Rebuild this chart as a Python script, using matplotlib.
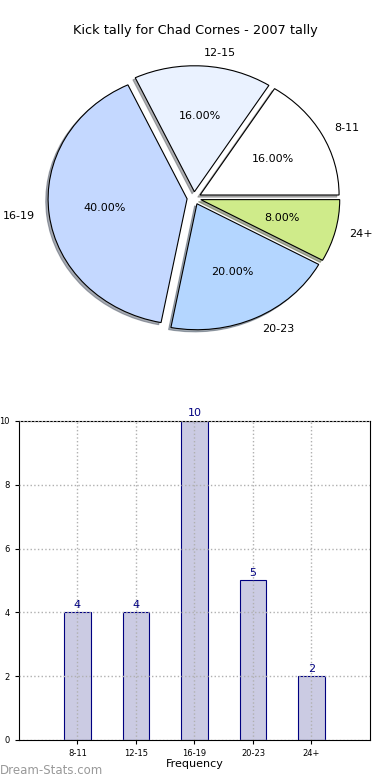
import matplotlib
matplotlib.use("Agg")
import matplotlib.pyplot as plt

# data
categories = ['8-11', '12-15', '16-19', '20-23', '24+']
kicks = [4, 4, 10, 5, 2]
slice_colors = ['#ffffff', '#eaf2ff', '#c4d8ff', '#b4d6ff', '#cfeb8a']

plt.rcParams['font.family'] = 'DejaVu Sans'

fig = plt.figure(figsize=(3.9, 7.8), dpi=100)
fig.patch.set_facecolor('white')

# pie chart (slightly squashed, like the original)
ax_pie = fig.add_axes([0.0519, 0.5442, 0.891, 0.4038])
wedges, texts, autotexts = ax_pie.pie(
    kicks,
    labels=categories,
    colors=slice_colors,
    explode=[0.05] * len(kicks),
    autopct='%1.2f%%',
    shadow={'ox': -0.012, 'oy': -0.012, 'shade': 0.6},
    startangle=0,
    labeldistance=1.1,
    pctdistance=0.6,
    wedgeprops={'edgecolor': 'black', 'linewidth': 0.8},
    textprops={'fontsize': 8},
)
ax_pie.set_aspect('auto')
ax_pie.set_xlim(-1.25, 1.25)
ax_pie.set_ylim(-1.25, 1.25)
ax_pie.axis('off')

fig.text(0.5, 0.961, 'Kick tally for Chad Cornes - 2007 tally',
         ha='center', va='center', fontsize=9.3)

# bar chart
ax_bar = fig.add_axes([0.0487, 0.0513, 0.9, 0.409])
positions = list(range(1, len(categories) + 1))
ax_bar.bar(positions, kicks, width=0.45, color='#cbcbe3',
           edgecolor='#000080', linewidth=0.8)
for pos, val in zip(positions, kicks):
    ax_bar.text(pos, val + 0.08, str(val), ha='center', va='bottom',
                fontsize=8, color='#000080')

ax_bar.set_xlim(0, 6)
ax_bar.set_ylim(0, 10)
ax_bar.set_xticks(positions)
ax_bar.set_xticklabels(categories)
ax_bar.set_yticks([0, 2, 4, 6, 8, 10])
ax_bar.tick_params(labelsize=6, length=3)
ax_bar.set_axisbelow(False)
ax_bar.grid(True, linestyle=':', color='#b0b0b0', linewidth=1)
ax_bar.set_xlabel('Frequency', fontsize=8, labelpad=1)
ax_bar.set_ylabel('Kick Tally', fontsize=8)
ax_bar.yaxis.set_label_coords(-0.065, 0.5)

fig.text(0.0, 0.012, 'Dream-Stats.com', ha='left', va='center',
         fontsize=8.5, color='#999999')

fig.savefig('out.png', dpi=100, facecolor='white')
